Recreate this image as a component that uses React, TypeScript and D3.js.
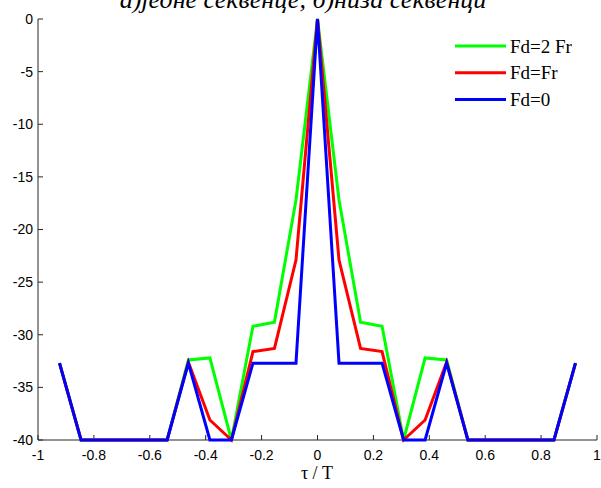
import * as d3 from "d3";

// lag positions tau/T (Barker-like sequence, lags k/13)
const tau = [
  -0.923, -0.846, -0.769, -0.692, -0.615, -0.538, -0.462, -0.385, -0.308,
  -0.231, -0.154, -0.077, 0, 0.077, 0.154, 0.231, 0.308, 0.385, 0.462, 0.538,
  0.615, 0.692, 0.769, 0.846, 0.923,
];

const fd2Fr = [
  -32.7, -40, -40, -40, -40, -40, -32.4, -32.2, -40, -29.2, -28.8, -17.2, 0,
  -17.2, -28.8, -29.2, -40, -32.2, -32.4, -40, -40, -40, -40, -40, -32.7,
];
const fdFr = [
  -32.7, -40, -40, -40, -40, -40, -32.6, -38.1, -40, -31.6, -31.3, -22.9, 0,
  -22.9, -31.3, -31.6, -40, -38.1, -32.6, -40, -40, -40, -40, -40, -32.7,
];
const fd0 = [
  -32.7, -40, -40, -40, -40, -40, -32.7, -40, -40, -32.7, -32.7, -32.7, 0,
  -32.7, -32.7, -32.7, -40, -40, -32.7, -40, -40, -40, -40, -40, -32.7,
];

const seriesNames = ["Fd=2 Fr", "Fd=Fr", "Fd=0"];
const seriesColors = ["#00ff00", "#ff0000", "#0000ff"];
const seriesValues = [fd2Fr, fdFr, fd0];

const xTicks = [-1, -0.8, -0.6, -0.4, -0.2, 0, 0.2, 0.4, 0.6, 0.8, 1];
const yTicks = [0, -5, -10, -15, -20, -25, -30, -35, -40];

const title = "а)једне секвенце, б)низа секвенци";
const xLabel = "τ / T";

const W = 601;
const H = 488;
const left = 38;
const right = 597;
const top = 19;
const bottom = 440;

export default function App() {
  const x = d3.scaleLinear().domain([-1, 1]).range([left, right]);
  const y = d3.scaleLinear().domain([-40, 0]).range([bottom, top]);
  const line = d3
    .line<number>()
    .x((_, i) => x(tau[i]))
    .y((d) => y(d));

  const sans = "'Liberation Sans', Arial, sans-serif";
  const serif = "'Liberation Serif', 'Times New Roman', serif";

  return (
    <svg
      width={W}
      height={H}
      style={{ position: "absolute", left: 0, top: 0, background: "#fff" }}
    >
      <text
        x={303}
        y={8}
        textAnchor="middle"
        fontFamily={serif}
        fontStyle="italic"
        fontSize={26}
        fill="#000"
      >
        {title}
      </text>

      {/* axes */}
      <line x1={left} x2={left} y1={top} y2={bottom} stroke="#262626" />
      <line x1={left} x2={right} y1={bottom} y2={bottom} stroke="#262626" />
      {yTicks.map((t) => (
        <g key={"y" + t}>
          <line x1={left} x2={left + 5} y1={y(t)} y2={y(t)} stroke="#262626" />
          <text
            x={33}
            y={y(t)}
            dy="0.35em"
            textAnchor="end"
            fontFamily={sans}
            fontSize={14}
            fill="#000"
          >
            {t}
          </text>
        </g>
      ))}
      {xTicks.map((t) => (
        <g key={"x" + t}>
          <line x1={x(t)} x2={x(t)} y1={bottom} y2={bottom - 5} stroke="#262626" />
          <text
            x={x(t)}
            y={460}
            textAnchor="middle"
            fontFamily={sans}
            fontSize={14}
            fill="#000"
          >
            {t}
          </text>
        </g>
      ))}
      <text
        x={317}
        y={479}
        textAnchor="middle"
        fontFamily={serif}
        fontSize={18}
        fill="#000"
      >
        {xLabel}
      </text>

      {/* series */}
      {seriesValues.map((vals, i) => (
        <path
          key={seriesNames[i]}
          d={line(vals) ?? ""}
          fill="none"
          stroke={seriesColors[i]}
          strokeWidth={3}
          strokeLinejoin="miter"
        />
      ))}

      {/* legend */}
      {seriesNames.map((name, i) => {
        const ly = 46 + i * 26.7;
        return (
          <g key={"leg" + name}>
            <line
              x1={455}
              x2={506}
              y1={ly}
              y2={ly}
              stroke={seriesColors[i]}
              strokeWidth={3}
            />
            <text
              x={510}
              y={ly}
              dy="0.35em"
              fontFamily={serif}
              fontSize={19}
              fill="#000"
            >
              {name}
            </text>
          </g>
        );
      })}
    </svg>
  );
}
